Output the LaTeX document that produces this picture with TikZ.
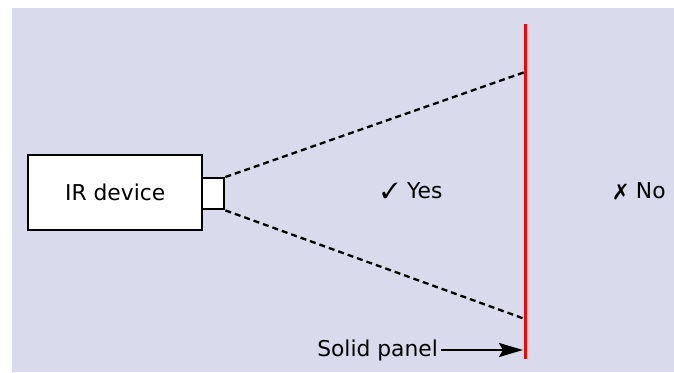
\documentclass[tikz,border=0pt]{standalone}
\usepackage{fontspec}
\usepackage{pifont}
\setmainfont{DejaVu Sans}
\usetikzlibrary{arrows.meta}
\definecolor{bgc}{RGB}{217,218,236}
\begin{document}
\begin{tikzpicture}[x=1pt,y=-1pt,
  every node/.style={font=\fontsize{21.8}{26}\selectfont, inner sep=0pt},
  boxst/.style={draw=black, line width=2.4pt, fill=white},
  beam/.style={line width=2.3pt, dash pattern=on 6pt off 4pt},
  panelst/.style={draw=red, line width=3pt},
  ptr/.style={line width=2.3pt, -{Stealth[length=24pt,width=14pt,inset=4pt]}}]
\useasboundingbox (0,0) rectangle (674,372);
\fill[bgc] (12,8) rectangle (674,372);
\node[boxst, minimum width=174pt, minimum height=75pt, anchor=north west] (dev) at (27,154) {IR device};
\node[boxst, minimum width=22pt, minimum height=31pt, anchor=north west] (lens) at (201,177) {};
\coordinate (ptop) at (525,24);
\coordinate (pbot) at (525,359);
\coordinate (hitA) at (525,72);
\coordinate (hitB) at (525,319);
\coordinate (hitC) at (523,350);
\draw[beam] (lens.north east) -- (hitA);
\draw[beam] (lens.south east) -- (hitB);
\draw[panelst] (ptop) -- (pbot);
\node (yes) at (412,191) {{\fontsize{22}{26}\selectfont\ding{51}}\hspace{9pt}Yes};
\node (no) at (640,191) {{\fontsize{22}{26}\selectfont\ding{55}}\hspace{9pt}No};
\node[anchor=east] (solid) at (438,350) {Solid panel};
\draw[ptr] (solid.east) ++(3,0) coordinate (sa) (sa) -- (hitC);
\end{tikzpicture}
\end{document}
